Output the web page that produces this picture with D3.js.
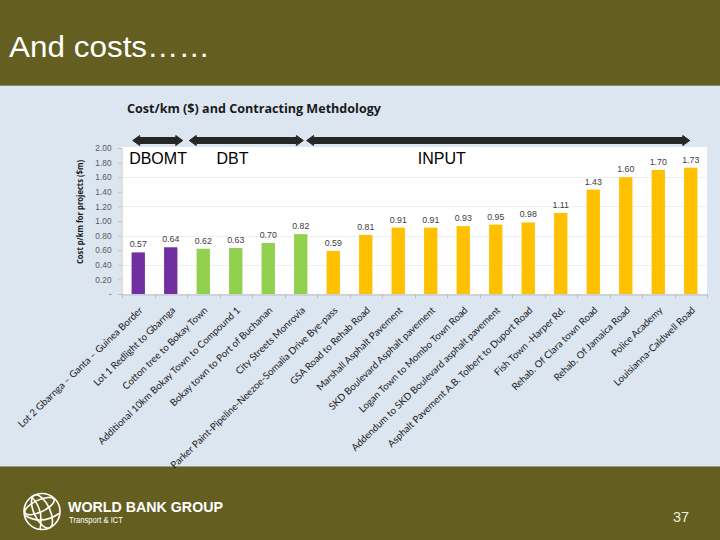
<!DOCTYPE html>
<html>
<head>
<meta charset="utf-8">
<script src="https://cdn.jsdelivr.net/npm/d3@7"></script>
<style>
  html, body { margin: 0; padding: 0; background: #DCE6F1; }
  svg { display: block; }
</style>
</head>
<body>
<svg id="chart" width="720" height="540"></svg>
<script>
// ---- data ----
const categories = [
  "Lot 2 Gbarnga – Ganta – Guinea Border",
  "Lot 1 Redlight to Gbarnga",
  "Cotton tree to Bokay Town",
  "Additional 10km Bokay Town to Compound 1",
  "Bokay town to Port of Buchanan",
  "City Streets Monrovia",
  "Parker Paint-Pipeline-Neezoe-Somalia Drive Bye-pass",
  "GSA Road to Rehab Road",
  "Marshall Asphalt Pavement",
  "SKD Boulevard Asphalt pavement",
  "Logan Town to Mombo Town Road",
  "Addendum to SKD Boulevard asphalt pavement",
  "Asphalt Pavement A.B. Tolbert to Duport Road",
  "Fish Town -Harper Rd.",
  "Rehab. Of Clara town Road",
  "Rehab. Of Jamaica Road",
  "Police Academy",
  "Louisianna-Caldwell Road"
];
const costValues = [0.57, 0.64, 0.62, 0.63, 0.70, 0.82, 0.59, 0.81, 0.91, 0.91, 0.93, 0.95, 0.98, 1.11, 1.43, 1.60, 1.70, 1.73];
const methods = ["DBOMT","DBOMT","DBT","DBT","DBT","DBT","INPUT","INPUT","INPUT","INPUT","INPUT","INPUT","INPUT","INPUT","INPUT","INPUT","INPUT","INPUT"];
const methodNames = ["DBOMT", "DBT", "INPUT"];
const methodColors = ["#7030A0", "#92D050", "#FFC000"];
const yTicks = [0, 0.2, 0.4, 0.6, 0.8, 1.0, 1.2, 1.4, 1.6, 1.8, 2.0];
const gridTicks = [0.4, 0.8, 1.2, 1.6];
const slideTitle = "And costs……";
const chartTitle = "Cost/km ($) and Contracting Methdology";
const yAxisTitle = "Cost p/km for projects ($m)";
const pageNumber = "37";

// ---- layout ----
const svg = d3.select("#chart");
const W = 720, H = 540;
const plot = { left: 122, right: 707, top: 147, bottom: 294 };

const x = d3.scaleBand().domain(categories).range([plot.left, plot.right])
  .paddingInner(0.59).paddingOuter(0.295);
const y = d3.scaleLinear().domain([0, 2]).range([plot.bottom, 148]);
const color = d3.scaleOrdinal().domain(methodNames).range(methodColors);

// background
svg.append("rect").attr("width", W).attr("height", H).attr("fill", "#DCE6F1");
// header
svg.append("rect").attr("x", 0).attr("y", 0).attr("width", W).attr("height", 85).attr("fill", "#645E20");
svg.append("rect").attr("x", 0).attr("y", 85).attr("width", W).attr("height", 1).attr("fill", "#8E8A62");
svg.append("text").attr("x", 9).attr("y", 57)
  .attr("font-family", "Liberation Sans, Arial, sans-serif").attr("font-size", 30)
  .attr("textLength", 201).attr("lengthAdjust", "spacingAndGlyphs")
  .attr("fill", "#FFFFFF").text(slideTitle);

// footer
svg.append("rect").attr("x", 0).attr("y", 466).attr("width", W).attr("height", 1).attr("fill", "#9A9A8A");
svg.append("rect").attr("x", 0).attr("y", 467).attr("width", W).attr("height", 73).attr("fill", "#645E20");

// globe logo
const g = svg.append("g").attr("transform", "translate(42,511.5)").attr("fill", "none").attr("stroke", "#FFFFFF").attr("stroke-width", 1.6);
g.append("circle").attr("r", 18);
g.append("ellipse").attr("rx", 8).attr("ry", 18).attr("transform", "rotate(-25)");
g.append("ellipse").attr("rx", 16).attr("ry", 6).attr("transform", "rotate(-25) translate(0,-6)");
g.append("path").attr("d", "M-17,4 Q0,14 17,2");
g.append("path").attr("d", "M-10,-14 Q2,-2 -2,18");
svg.append("text").attr("x", 68).attr("y", 511.5)
  .attr("font-family", "Liberation Sans, Arial, sans-serif").attr("font-weight", "bold").attr("font-size", 15)
  .attr("textLength", 155).attr("lengthAdjust", "spacingAndGlyphs")
  .attr("fill", "#FFFFFF").text("WORLD BANK GROUP");
svg.append("text").attr("x", 69).attr("y", 523)
  .attr("font-family", "Liberation Sans, Arial, sans-serif").attr("font-size", 8.5)
  .attr("textLength", 54).attr("lengthAdjust", "spacingAndGlyphs")
  .attr("fill", "#FFFFFF").text("Transport & ICT");
svg.append("text").attr("x", 673).attr("y", 522)
  .attr("font-family", "Liberation Sans, Arial, sans-serif").attr("font-size", 14.5)
  .attr("fill", "#EDEBD8").text(pageNumber);

// chart title
svg.append("text").attr("x", 127).attr("y", 113)
  .attr("font-family", "Open Sans, sans-serif").attr("font-weight", "bold").attr("font-size", 12.5)
  .attr("textLength", 254).attr("lengthAdjust", "spacingAndGlyphs")
  .attr("fill", "#1A1A1A").text(chartTitle);

// plot area
svg.append("rect").attr("x", plot.left - 1).attr("y", plot.top)
  .attr("width", plot.right - plot.left + 1).attr("height", plot.bottom - plot.top)
  .attr("fill", "#FFFFFF");

// gridlines
svg.append("g").selectAll("line").data(gridTicks).join("line")
  .attr("x1", plot.left).attr("x2", plot.right)
  .attr("y1", d => Math.round(y(d)) + 0.5).attr("y2", d => Math.round(y(d)) + 0.5)
  .attr("stroke", "#EEEEEE").attr("stroke-width", 1);

// y axis
const yAxis = d3.axisLeft(y).tickValues(yTicks).tickSize(3).tickPadding(7)
  .tickFormat(d => d === 0 ? "-" : d3.format(".2f")(d));
const ya = svg.append("g").attr("transform", `translate(${plot.left - 0.5},0)`).call(yAxis);
ya.select(".domain").attr("stroke", "#BFBFBF");
ya.selectAll(".tick line").attr("stroke", "#BFBFBF");
ya.selectAll(".tick text").attr("font-family", "Liberation Sans, Arial, sans-serif")
  .attr("font-size", 8.3).attr("fill", "#595959");

// y axis title
svg.append("text")
  .attr("transform", `translate(83,${212}) rotate(-90)`)
  .attr("text-anchor", "middle")
  .attr("font-family", "Open Sans, sans-serif").attr("font-weight", "bold").attr("font-size", 9)
  .attr("textLength", 104).attr("lengthAdjust", "spacingAndGlyphs")
  .attr("fill", "#1A1A1A").text(yAxisTitle);

// bars
svg.append("g").selectAll("rect").data(categories).join("rect")
  .attr("x", d => x(d))
  .attr("width", x.bandwidth())
  .attr("y", (d, i) => y(costValues[i]))
  .attr("height", (d, i) => plot.bottom - y(costValues[i]))
  .attr("fill", (d, i) => color(methods[i]));

// value labels
svg.append("g").selectAll("text").data(categories).join("text")
  .attr("x", d => x(d) + x.bandwidth() / 2)
  .attr("y", (d, i) => y(costValues[i]) - 5)
  .attr("text-anchor", "middle")
  .attr("font-family", "Liberation Sans, Arial, sans-serif").attr("font-size", 8.8)
  .attr("fill", "#404040")
  .text((d, i) => d3.format(".2f")(costValues[i]));

// x axis
const xAxis = d3.axisBottom(x).tickSize(0).tickFormat("");
const xa = svg.append("g").attr("transform", `translate(0,${plot.bottom + 0.5})`).call(xAxis);
xa.select(".domain").attr("stroke", "#BFBFBF");
// tick marks at band boundaries
const bounds = categories.map((d, i) => plot.left + i * x.step()).concat([plot.right]);
svg.append("g").selectAll("line").data(bounds).join("line")
  .attr("x1", d => Math.round(d) + 0.5).attr("x2", d => Math.round(d) + 0.5)
  .attr("y1", plot.bottom).attr("y2", plot.bottom + 4)
  .attr("stroke", "#BFBFBF");

// category labels
svg.append("g").selectAll("text").data(categories).join("text")
  .attr("transform", d => `translate(${x(d) + x.bandwidth() / 2 + 5},${plot.bottom + 17}) rotate(-44)`)
  .attr("text-anchor", "end")
  .attr("font-family", "Lato, sans-serif").attr("font-size", 9.7)
  .attr("fill", "#1A1A1A")
  .text(d => d);

// method arrows (annotation), spans in category-index units
const arrowSpans = [[-0.17, 1.37], [1.57, 5.08], [5.18, 16.97]];
const idxX = i => x(categories[0]) + x.bandwidth() / 2 + i * x.step();
const ay = 140.5, shaftH = 6, headH = 10, headL = 7;
svg.append("g").selectAll("path").data(arrowSpans).join("path")
  .attr("d", s => {
    const a = idxX(s[0]), b = idxX(s[1]);
    return `M${a},${ay} L${a + headL},${ay - headH / 2} L${a + headL},${ay - shaftH / 2} L${b - headL},${ay - shaftH / 2} L${b - headL},${ay - headH / 2} L${b},${ay} L${b - headL},${ay + headH / 2} L${b - headL},${ay + shaftH / 2} L${a + headL},${ay + shaftH / 2} L${a + headL},${ay + headH / 2} Z`;
  })
  .attr("fill", "#262626").attr("stroke", "#262626").attr("stroke-width", 1).attr("stroke-linejoin", "round");

// method labels
const methodLabelIdx = [-0.28, 2.41, 8.6];
svg.append("g").selectAll("text").data(methodNames).join("text")
  .attr("x", (d, i) => idxX(methodLabelIdx[i]))
  .attr("y", 164)
  .attr("font-family", "Liberation Sans, Arial, sans-serif").attr("font-size", 16)
  .attr("fill", "#000000")
  .text(d => d);
</script>
</body>
</html>
